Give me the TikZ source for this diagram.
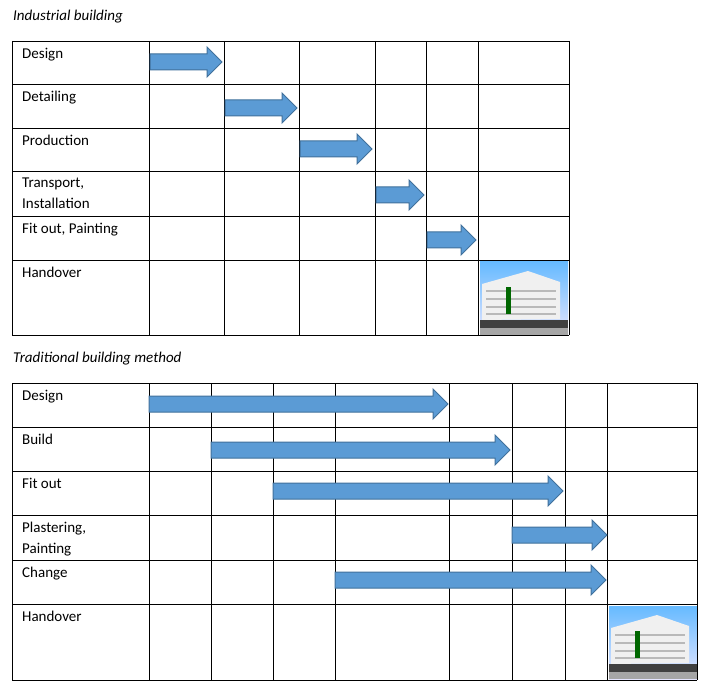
\documentclass[tikz,border=0pt]{standalone}
\usepackage{fontspec}
\setmainfont{Carlito}
\begin{document}
\begin{tikzpicture}[x=1pt,y=-1pt,
  grid/.style={draw=black,line width=0.8pt},
  lbl/.style={anchor=north west,inner sep=0pt,align=left,font=\fontsize{15}{21}\selectfont},
  ttl/.style={anchor=west,inner sep=0pt,font=\fontsize{15}{18}\selectfont\itshape},
  arr/.style={fill=arrfill,draw=arredge,line width=1pt}]
\definecolor{arrfill}{HTML}{5B9BD5}
\definecolor{arredge}{HTML}{41719C}
\useasboundingbox (0,0) rectangle (709,700);
\fill[white] (0,0) rectangle (709,700);
\newcommand\harrow[3]{\draw[arr] (#1,#3-8) -- (#2-15,#3-8) -- (#2-15,#3-15) -- (#2,#3) -- (#2-15,#3+15) -- (#2-15,#3+8) -- (#1,#3+8) -- cycle;}
\newcommand\photo[2]{%
  \begin{scope}[shift={(#1,#2)}]
  \shade[top color=blue!45!cyan!60,bottom color=blue!10] (0,0) rectangle (88,73);
  \fill[gray!12] (2,22) -- (48,9) -- (80,20) -- (80,57) -- (2,58) -- cycle;
  \foreach \k in {28,36,44,51}{\fill[gray!55] (6,\k) rectangle (76,\k+2);}
  \fill[green!40!black] (26,25) rectangle (31,52);
  \fill[gray!50!black] (0,58) rectangle (88,73);
  \fill[gray!70] (0,66) rectangle (88,73);
  \end{scope}}
% top
\node[ttl] (t1) at (13,17) {Industrial building};
\photo{480}{262}
\foreach \x in {12,149,224,299,375,426,478,569}{\draw[grid] (\x,41) -- (\x,335);}
\foreach \y in {41,84,128,171,216,260,335}{\draw[grid] (12,\y) -- (569,\y);}
\node[lbl] (a1) at (22,48) {Design};
\node[lbl] (a2) at (22,91) {Detailing};
\node[lbl] (a3) at (22,135) {Production};
\node[lbl] (a4) at (22,178) {Transport,\\Installation};
\node[lbl] (a5) at (22,223) {Fit out, Painting};
\node[lbl] (a6) at (22,267) {Handover};
\harrow{150}{222}{62}
\harrow{225}{297}{108}
\harrow{300}{372}{149}
\harrow{376}{424}{195}
\harrow{427}{476}{240}
% bottom
\node[ttl] (t2) at (13,359) {Traditional building method};
\photo{609}{606}
\foreach \x in {12,149,211,273,335,449,512,565,607,697}{\draw[grid] (\x,383) -- (\x,680);}
\foreach \y in {383,427,471,515,560,604,680}{\draw[grid] (12,\y) -- (697,\y);}
\node[lbl] (b1) at (22,390) {Design};
\node[lbl] (b2) at (22,434) {Build};
\node[lbl] (b3) at (22,478) {Fit out};
\node[lbl] (b4) at (22,522) {Plastering,\\Painting};
\node[lbl] (b5) at (22,567) {Change};
\node[lbl] (b6) at (22,611) {Handover};
\harrow{149}{448}{404}
\harrow{211}{510}{450}
\harrow{273}{563}{491}
\harrow{512}{607}{535}
\harrow{335}{606}{580}
\end{tikzpicture}
\end{document}
